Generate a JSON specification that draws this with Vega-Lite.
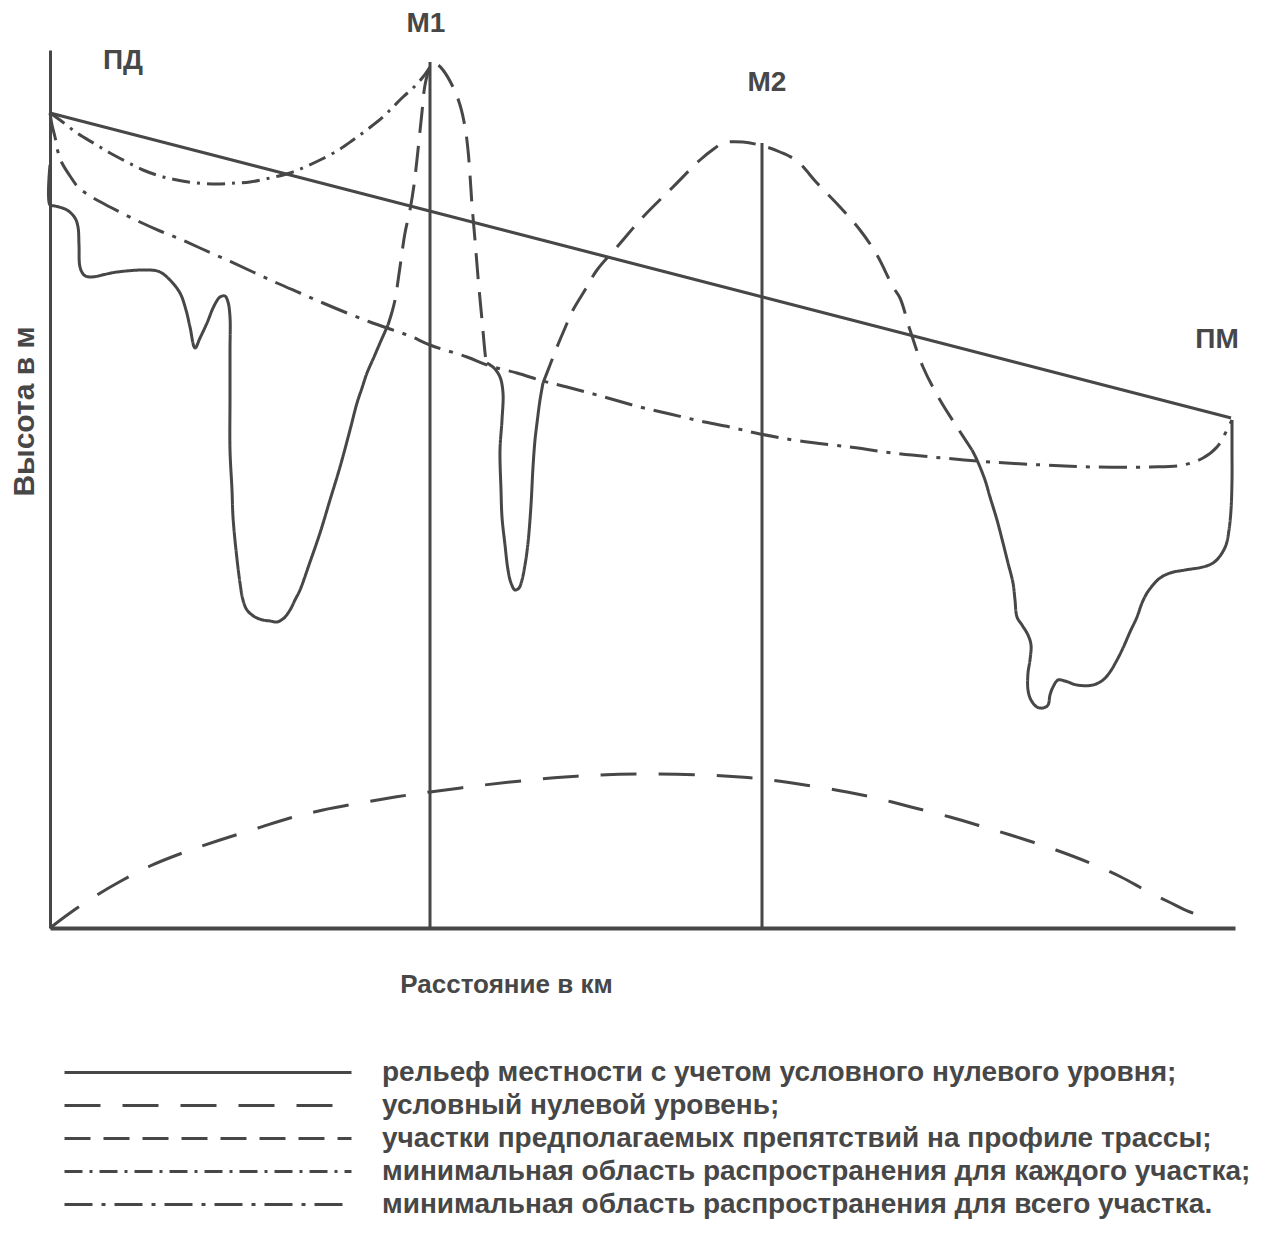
{
  "$schema": "https://vega.github.io/schema/vega-lite/v6.json",
  "autosize": {"type": "none"},
  "width": 1185,
  "height": 878,
  "padding": {"left": 50, "top": 50, "right": 29, "bottom": 314},
  "background": "white",
  "config": {
    "view": {"stroke": null},
    "font": "Liberation Sans"
  },
  "datasets": {
    "lines": [
      {"s":"A","t":"a","x":0,"y":763},{"s":"A","t":"a","x":0,"y":723},{"s":"A","t":"a","x":5,"y":722},{"s":"A","t":"a","x":17,"y":718},{"s":"A","t":"a","x":25,"y":710},{"s":"A","t":"a","x":28,"y":701},{"s":"A","t":"a","x":29,"y":683},{"s":"A","t":"a","x":30,"y":661},{"s":"A","t":"a","x":34,"y":653},{"s":"A","t":"a","x":40,"y":651},{"s":"A","t":"a","x":67,"y":656},{"s":"A","t":"a","x":100,"y":658},{"s":"A","t":"a","x":110,"y":656},{"s":"A","t":"a","x":120,"y":648},{"s":"A","t":"a","x":130,"y":635},{"s":"A","t":"a","x":136,"y":618},{"s":"A","t":"a","x":140,"y":601},{"s":"A","t":"a","x":145,"y":580},{"s":"A","t":"a","x":150,"y":590},{"s":"A","t":"a","x":157,"y":605},{"s":"A","t":"a","x":164,"y":622},{"s":"A","t":"a","x":170,"y":631},{"s":"A","t":"a","x":175,"y":632},{"s":"A","t":"a","x":178,"y":626},{"s":"A","t":"a","x":180,"y":611},{"s":"A","t":"a","x":180,"y":578},{"s":"A","t":"a","x":180,"y":528},{"s":"A","t":"a","x":180,"y":478},{"s":"A","t":"a","x":182,"y":438},{"s":"A","t":"a","x":183,"y":411},{"s":"A","t":"a","x":186,"y":378},{"s":"A","t":"a","x":190,"y":345},{"s":"A","t":"a","x":193,"y":328},{"s":"A","t":"a","x":197,"y":318},{"s":"A","t":"a","x":205,"y":311},{"s":"A","t":"a","x":213,"y":308},{"s":"A","t":"a","x":220,"y":307},{"s":"A","t":"a","x":227,"y":306},{"s":"A","t":"a","x":234,"y":310},{"s":"A","t":"a","x":240,"y":318},{"s":"A","t":"a","x":245,"y":328},{"s":"A","t":"a","x":250,"y":338},{"s":"A","t":"a","x":260,"y":366},{"s":"A","t":"a","x":270,"y":395},{"s":"A","t":"a","x":280,"y":428},{"s":"A","t":"a","x":290,"y":461},{"s":"A","t":"a","x":300,"y":498},{"s":"A","t":"a","x":307,"y":525},{"s":"A","t":"a","x":312,"y":540},{"s":"A","t":"a","x":317,"y":555},{"s":"A","t":"a","x":324,"y":571},{"s":"A","t":"a","x":330,"y":585},{"s":"A","t":"a","x":338,"y":603},
      {"s":"B","t":"c","x":338,"y":603},{"s":"B","t":"c","x":342,"y":616},{"s":"B","t":"c","x":345,"y":628},{"s":"B","t":"c","x":350,"y":661},{"s":"B","t":"c","x":355,"y":695},{"s":"B","t":"c","x":360,"y":718},{"s":"B","t":"c","x":364,"y":743},{"s":"B","t":"c","x":368,"y":778},{"s":"B","t":"c","x":372,"y":816},{"s":"B","t":"c","x":375,"y":843},{"s":"B","t":"c","x":380,"y":861},{"s":"B","t":"c","x":383,"y":865},{"s":"B","t":"c","x":388,"y":863},{"s":"B","t":"c","x":393,"y":858},{"s":"B","t":"c","x":403,"y":841},{"s":"B","t":"c","x":410,"y":823},{"s":"B","t":"c","x":415,"y":801},{"s":"B","t":"c","x":418,"y":778},{"s":"B","t":"c","x":420,"y":753},{"s":"B","t":"c","x":422,"y":723},{"s":"B","t":"c","x":425,"y":688},{"s":"B","t":"c","x":428,"y":651},{"s":"B","t":"c","x":432,"y":608},{"s":"B","t":"c","x":436,"y":568},{"s":"B","t":"c","x":437,"y":565},
      {"s":"C","t":"a","x":437,"y":565},{"s":"C","t":"a","x":444,"y":560},{"s":"C","t":"a","x":450,"y":551},{"s":"C","t":"a","x":453,"y":535},{"s":"C","t":"a","x":452,"y":508},{"s":"C","t":"a","x":450,"y":478},{"s":"C","t":"a","x":451,"y":438},{"s":"C","t":"a","x":452,"y":411},{"s":"C","t":"a","x":455,"y":383},{"s":"C","t":"a","x":458,"y":358},{"s":"C","t":"a","x":461,"y":345},{"s":"C","t":"a","x":465,"y":338},{"s":"C","t":"a","x":469,"y":340},{"s":"C","t":"a","x":472,"y":348},{"s":"C","t":"a","x":475,"y":363},{"s":"C","t":"a","x":478,"y":385},{"s":"C","t":"a","x":481,"y":423},{"s":"C","t":"a","x":483,"y":461},{"s":"C","t":"a","x":485,"y":488},{"s":"C","t":"a","x":487,"y":505},{"s":"C","t":"a","x":490,"y":528},{"s":"C","t":"a","x":493,"y":545},
      {"s":"D","t":"c","x":493,"y":545},{"s":"D","t":"c","x":500,"y":563},{"s":"D","t":"c","x":507,"y":581},{"s":"D","t":"c","x":515,"y":600},{"s":"D","t":"c","x":523,"y":618},{"s":"D","t":"c","x":535,"y":638},{"s":"D","t":"c","x":547,"y":658},{"s":"D","t":"c","x":567,"y":681},{"s":"D","t":"c","x":593,"y":711},{"s":"D","t":"c","x":623,"y":741},{"s":"D","t":"c","x":650,"y":768},{"s":"D","t":"c","x":665,"y":780},{"s":"D","t":"c","x":673,"y":785},{"s":"D","t":"c","x":693,"y":786},{"s":"D","t":"c","x":713,"y":782},{"s":"D","t":"c","x":730,"y":776},{"s":"D","t":"c","x":747,"y":767},{"s":"D","t":"c","x":767,"y":745},{"s":"D","t":"c","x":790,"y":721},{"s":"D","t":"c","x":810,"y":698},{"s":"D","t":"c","x":827,"y":673},{"s":"D","t":"c","x":843,"y":641},{"s":"D","t":"c","x":850,"y":630},{"s":"D","t":"c","x":860,"y":598},{"s":"D","t":"c","x":873,"y":561},{"s":"D","t":"c","x":890,"y":528},{"s":"D","t":"c","x":907,"y":501},{"s":"D","t":"c","x":922,"y":478},
      {"s":"E","t":"a","x":922,"y":478},{"s":"E","t":"a","x":927,"y":468},{"s":"E","t":"a","x":935,"y":448},{"s":"E","t":"a","x":940,"y":431},{"s":"E","t":"a","x":947,"y":408},{"s":"E","t":"a","x":953,"y":385},{"s":"E","t":"a","x":958,"y":365},{"s":"E","t":"a","x":963,"y":345},{"s":"E","t":"a","x":965,"y":328},{"s":"E","t":"a","x":967,"y":311},{"s":"E","t":"a","x":972,"y":303},{"s":"E","t":"a","x":978,"y":293},{"s":"E","t":"a","x":981,"y":283},{"s":"E","t":"a","x":980,"y":268},{"s":"E","t":"a","x":978,"y":255},{"s":"E","t":"a","x":978,"y":238},{"s":"E","t":"a","x":981,"y":228},{"s":"E","t":"a","x":987,"y":221},{"s":"E","t":"a","x":993,"y":220},{"s":"E","t":"a","x":998,"y":223},{"s":"E","t":"a","x":1000,"y":233},{"s":"E","t":"a","x":1003,"y":241},{"s":"E","t":"a","x":1008,"y":248},{"s":"E","t":"a","x":1015,"y":247},{"s":"E","t":"a","x":1027,"y":243},{"s":"E","t":"a","x":1043,"y":243},{"s":"E","t":"a","x":1053,"y":248},{"s":"E","t":"a","x":1060,"y":256},{"s":"E","t":"a","x":1067,"y":268},{"s":"E","t":"a","x":1073,"y":280},{"s":"E","t":"a","x":1080,"y":296},{"s":"E","t":"a","x":1087,"y":311},{"s":"E","t":"a","x":1092,"y":325},{"s":"E","t":"a","x":1097,"y":335},{"s":"E","t":"a","x":1103,"y":343},{"s":"E","t":"a","x":1110,"y":350},{"s":"E","t":"a","x":1120,"y":355},{"s":"E","t":"a","x":1135,"y":358},{"s":"E","t":"a","x":1153,"y":361},{"s":"E","t":"a","x":1163,"y":365},{"s":"E","t":"a","x":1170,"y":372},{"s":"E","t":"a","x":1176,"y":383},{"s":"E","t":"a","x":1179,"y":398},{"s":"E","t":"a","x":1181,"y":418},{"s":"E","t":"a","x":1182,"y":448},{"s":"E","t":"a","x":1182,"y":478},{"s":"E","t":"a","x":1182,"y":508},
      {"s":"F","t":"a","x":0,"y":815},{"s":"F","t":"a","x":1181,"y":510},
      {"s":"G","t":"d","x":0,"y":815},{"s":"G","t":"d","x":10,"y":808},{"s":"G","t":"d","x":27,"y":795},{"s":"G","t":"d","x":45,"y":784},{"s":"G","t":"d","x":60,"y":775},{"s":"G","t":"d","x":77,"y":766},{"s":"G","t":"d","x":93,"y":758},{"s":"G","t":"d","x":110,"y":752},{"s":"G","t":"d","x":127,"y":748},{"s":"G","t":"d","x":147,"y":745},{"s":"G","t":"d","x":167,"y":744},{"s":"G","t":"d","x":185,"y":745},{"s":"G","t":"d","x":200,"y":746},{"s":"G","t":"d","x":220,"y":750},{"s":"G","t":"d","x":240,"y":755},{"s":"G","t":"d","x":255,"y":761},{"s":"G","t":"d","x":270,"y":768},{"s":"G","t":"d","x":287,"y":777},{"s":"G","t":"d","x":303,"y":788},{"s":"G","t":"d","x":318,"y":799},{"s":"G","t":"d","x":333,"y":811},{"s":"G","t":"d","x":343,"y":821},{"s":"G","t":"d","x":353,"y":831},{"s":"G","t":"d","x":363,"y":840},{"s":"G","t":"d","x":373,"y":851},{"s":"G","t":"d","x":380,"y":861},
      {"s":"H","t":"e","x":0,"y":815},{"s":"H","t":"e","x":2,"y":803},{"s":"H","t":"e","x":5,"y":791},{"s":"H","t":"e","x":8,"y":776},{"s":"H","t":"e","x":12,"y":765},{"s":"H","t":"e","x":20,"y":752},{"s":"H","t":"e","x":28,"y":741},{"s":"H","t":"e","x":40,"y":732},{"s":"H","t":"e","x":60,"y":721},{"s":"H","t":"e","x":90,"y":706},{"s":"H","t":"e","x":110,"y":697},{"s":"H","t":"e","x":130,"y":689},{"s":"H","t":"e","x":150,"y":680},{"s":"H","t":"e","x":177,"y":668},{"s":"H","t":"e","x":203,"y":656},{"s":"H","t":"e","x":227,"y":645},{"s":"H","t":"e","x":250,"y":635},{"s":"H","t":"e","x":273,"y":625},{"s":"H","t":"e","x":297,"y":615},{"s":"H","t":"e","x":320,"y":606},{"s":"H","t":"e","x":340,"y":599},{"s":"H","t":"e","x":360,"y":592},{"s":"H","t":"e","x":380,"y":583},{"s":"H","t":"e","x":417,"y":571},{"s":"H","t":"e","x":440,"y":562},{"s":"H","t":"e","x":467,"y":555},{"s":"H","t":"e","x":493,"y":547},{"s":"H","t":"e","x":517,"y":541},{"s":"H","t":"e","x":547,"y":533},{"s":"H","t":"e","x":590,"y":521},{"s":"H","t":"e","x":620,"y":514},{"s":"H","t":"e","x":650,"y":507},{"s":"H","t":"e","x":680,"y":501},{"s":"H","t":"e","x":710,"y":494},{"s":"H","t":"e","x":750,"y":487},{"s":"H","t":"e","x":800,"y":481},{"s":"H","t":"e","x":843,"y":475},{"s":"H","t":"e","x":893,"y":470},{"s":"H","t":"e","x":940,"y":466},{"s":"H","t":"e","x":993,"y":463},{"s":"H","t":"e","x":1043,"y":461},{"s":"H","t":"e","x":1100,"y":461},{"s":"H","t":"e","x":1133,"y":463},{"s":"H","t":"e","x":1153,"y":470},{"s":"H","t":"e","x":1167,"y":481},{"s":"H","t":"e","x":1177,"y":498},{"s":"H","t":"e","x":1182,"y":508},
      {"s":"I","t":"b","x":0,"y":0},{"s":"I","t":"b","x":20,"y":15},{"s":"I","t":"b","x":47,"y":33},{"s":"I","t":"b","x":71,"y":47},{"s":"I","t":"b","x":100,"y":62},{"s":"I","t":"b","x":135,"y":76},{"s":"I","t":"b","x":170,"y":88},{"s":"I","t":"b","x":208,"y":100},{"s":"I","t":"b","x":240,"y":110},{"s":"I","t":"b","x":273,"y":118},{"s":"I","t":"b","x":310,"y":125},{"s":"I","t":"b","x":345,"y":131},{"s":"I","t":"b","x":380,"y":136},{"s":"I","t":"b","x":434,"y":143},{"s":"I","t":"b","x":480,"y":148},{"s":"I","t":"b","x":515,"y":151},{"s":"I","t":"b","x":550,"y":153},{"s":"I","t":"b","x":595,"y":154},{"s":"I","t":"b","x":652,"y":153},{"s":"I","t":"b","x":690,"y":151},{"s":"I","t":"b","x":713,"y":149},{"s":"I","t":"b","x":755,"y":143},{"s":"I","t":"b","x":797,"y":136},{"s":"I","t":"b","x":830,"y":129},{"s":"I","t":"b","x":861,"y":121},{"s":"I","t":"b","x":900,"y":111},{"s":"I","t":"b","x":934,"y":101},{"s":"I","t":"b","x":970,"y":90},{"s":"I","t":"b","x":1006,"y":78},{"s":"I","t":"b","x":1040,"y":65},{"s":"I","t":"b","x":1071,"y":51},{"s":"I","t":"b","x":1095,"y":38},{"s":"I","t":"b","x":1119,"y":26},{"s":"I","t":"b","x":1140,"y":16},{"s":"I","t":"b","x":1162,"y":10}
    ],
    "masts": [
      {"x": 380, "y": 0, "y2": 866},
      {"x": 712, "y": 0, "y2": 785}
    ],
    "labels": [
      {"x": 73, "y": 867, "label": "ПД"},
      {"x": 376, "y": 904, "label": "М1"},
      {"x": 717, "y": 845, "label": "М2"},
      {"x": 1167, "y": 588, "label": "ПМ"}
    ]
  },
  "layer": [
    {
      "data": {"name": "lines"},
      "mark": {"type": "line", "strokeWidth": 3, "color": "#474747", "interpolate": "catmull-rom"},
      "encoding": {
        "x": {"field": "x", "type": "quantitative", "scale": {"domain": [0, 1185], "nice": false, "zero": false},
              "axis": {"title": "Расстояние в км", "labels": false, "ticks": false, "grid": false,
                       "domainColor": "#474747", "domainWidth": 4,
                       "titleFont": "Liberation Sans", "titleFontSize": 26, "titleFontWeight": "bold", "titleColor": "#474747",
                       "titleX": 456, "titleY": 56, "titleAlign": "center", "titleBaseline": "middle"}},
        "y": {"field": "y", "type": "quantitative", "scale": {"domain": [0, 878], "nice": false, "zero": false},
              "axis": {"title": "Высота в м", "labels": false, "ticks": false, "grid": false,
                       "domainColor": "#474747", "domainWidth": 3,
                       "titleFont": "Liberation Sans", "titleFontSize": 30, "titleFontWeight": "bold", "titleColor": "#474747",
                       "titleX": -26, "titleY": 361, "titleAngle": 270, "titleAlign": "center", "titleBaseline": "middle"}},
        "detail": {"field": "s"},
        "order": {"value": null},
        "strokeDash": {
          "field": "t", "type": "nominal",
          "scale": {"domain": ["a", "b", "c", "d", "e"],
                    "range": [[1, 0], [36, 22], [26, 13], [18, 7, 3, 7], [28, 9, 4, 9]]},
          "legend": {
            "orient": "none", "legendX": 13, "legendY": 1006, "direction": "vertical",
            "title": null, "padding": 0,
            "symbolType": "stroke", "symbolSize": 82369, "symbolStrokeWidth": 3, "symbolStrokeColor": "#474747",
            "clipHeight": 33, "rowPadding": 0, "labelOffset": 29,
            "labelFont": "Liberation Sans", "labelFontSize": 28, "labelFontWeight": "bold", "labelColor": "#474747", "labelLimit": 1200,
            "labelExpr": "datum.label == 'a' ? 'рельеф местности с учетом условного нулевого уровня;' : datum.label == 'b' ? 'условный нулевой уровень;' : datum.label == 'c' ? 'участки предполагаемых препятствий на профиле трассы;' : datum.label == 'd' ? 'минимальная область распространения для каждого участка;' : 'минимальная область распространения для всего участка.'"
          }
        }
      }
    },
    {
      "data": {"name": "masts"},
      "mark": {"type": "rule", "strokeWidth": 3, "color": "#474747"},
      "encoding": {
        "x": {"field": "x", "type": "quantitative"},
        "y": {"field": "y", "type": "quantitative"},
        "y2": {"field": "y2"}
      }
    },
    {
      "data": {"name": "labels"},
      "mark": {"type": "text", "font": "Liberation Sans", "fontSize": 28, "fontWeight": "bold", "color": "#474747", "align": "center", "baseline": "middle"},
      "encoding": {
        "x": {"field": "x", "type": "quantitative"},
        "y": {"field": "y", "type": "quantitative"},
        "text": {"field": "label"}
      }
    }
  ]
}
